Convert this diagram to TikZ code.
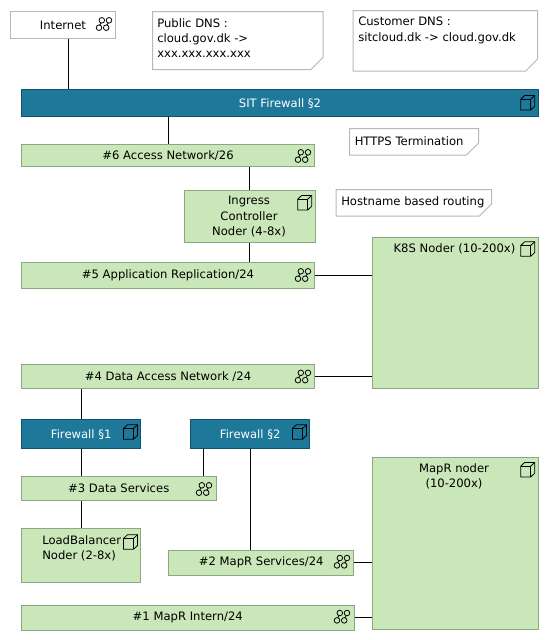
\documentclass[tikz,border=0pt]{standalone}
\usepackage{fontspec}
\setmainfont{DejaVu Sans}
\definecolor{zonegreen}{HTML}{CAE7B9}
\definecolor{zoneline}{HTML}{8CA882}
\definecolor{wallblue}{HTML}{1D7899}
\definecolor{wallline}{HTML}{135269}
\definecolor{noteline}{HTML}{B8B8B8}
\tikzset{
  basebox/.style={rectangle,anchor=north west,inner sep=0pt,line width=.75pt,font=\fontsize{8.7}{11.5}\selectfont},
  zone/.style={basebox,draw=zoneline,fill=zonegreen},
  wall/.style={basebox,draw=wallline,fill=wallblue,text=white},
  plain/.style={basebox,draw=noteline,fill=white},
  link/.style={black,line width=.8pt},
  tag/.style={font=\fontsize{8.7}{11.5}\selectfont,inner sep=0pt,align=left}
}
% network icon, #1 = centre
\newcommand{\neticon}[1]{
  \begin{scope}[shift={(#1)},line width=.6pt]
    \foreach \px/\py in {-2.2/-3.7,5/-3.7,-5/3.7,2.2/3.7}
      \draw (\px,\py) circle (2.8);
    \draw (-2.9,-1) -- (-4.3,1);
    \draw (4.3,-1) -- (2.9,1);
  \end{scope}
}
% node icon, #1 = centre
\newcommand{\cubeicon}[1]{
  \begin{scope}[shift={(#1)},line width=.6pt]
    \draw (-7,-3.5) -- (-3,-7.3) -- (7,-7.3) -- (7,3.5) -- (3,7.3) -- (-7,7.3) -- cycle;
    \draw (-7,-3.5) -- (3,-3.5) -- (3,7.3);
    \draw (3,-3.5) -- (7,-7.3);
  \end{scope}
}
% note with cut corner, x1 y1 x2 y2
\newcommand{\notebox}[4]{
  \draw[line width=.75pt,draw=noteline,fill=white] (#1,#2) -- (#3,#2) -- (#3,#4-12) -- (#3-12,#4) -- (#1,#4) -- cycle;
}
\begin{document}
\begin{tikzpicture}[x=.75pt,y=-.75pt]
    \useasboundingbox (0,0) rectangle (548,640);

    \notebox{152.5}{11.5}{323}{69.5}
    \node[tag,anchor=north west] (publicdns) at (157,18) {Public DNS :\\cloud.gov.dk ->\\xxx.xxx.xxx.xxx};
    \notebox{353}{10.5}{537.7}{71}
    \node[tag,anchor=north west] (customerdns) at (358,17) {Customer DNS :\\sitcloud.dk -> cloud.gov.dk};
    \notebox{349.5}{128.5}{478.5}{155}
    \node[tag,anchor=west] (https) at (354.5,141) {HTTPS Termination};
    \notebox{336}{189.5}{491.5}{216}
    \node[tag,anchor=west] (hostname) at (341,202) {Hostname based routing};

    \node[plain,minimum width=78.75pt,minimum height=20.25pt] (internet) at (10,11) {Internet};

    \node[wall,minimum width=387.75pt,minimum height=20.6pt] (sit) at (21,89) {SIT Firewall §2};
    \node[wall,minimum width=89.6pt,minimum height=22.1pt] (fwone) at (21,419) {Firewall §1};
    \node[wall,minimum width=89.6pt,minimum height=22.1pt] (fwtwo) at (190,419) {Firewall §2};

    \node[zone,minimum width=219.75pt,minimum height=16.9pt] (accessnet) at (21,143.5) {\#6 Access Network/26};
    \node[zone,minimum width=98pt,minimum height=39.4pt] (ingress) at (184,189.5) {};
    \node[zone,minimum width=219.75pt,minimum height=19.5pt] (appnet) at (21,262) {\#5 Application Replication/24};
    \node[zone,minimum width=219.75pt,minimum height=18pt] (datanet) at (21,364) {\#4 Data Access Network /24};
    \node[zone,minimum width=145.9pt,minimum height=18pt] (dataserv) at (21,476) {\#3 Data Services};
    \node[zone,minimum width=89.6pt,minimum height=40.5pt] (lbnode) at (21,528) {};
    \node[zone,minimum width=139.1pt,minimum height=18.75pt] (maprserv) at (168,549.5) {\#2 MapR Services/24};
    \node[zone,minimum width=249.4pt,minimum height=18.75pt] (maprint) at (21,604.5) {\#1 MapR Intern/24};
    \node[zone,minimum width=124.9pt,minimum height=113.6pt] (k8s) at (371.5,236.5) {};
    \node[zone,minimum width=124.9pt,minimum height=129pt] (maprnode) at (371.5,457) {};

    \node[tag,align=center,anchor=north] (ingresstxt) at (249,196) {Ingress\\Controller\\Noder (4-8x)};
    \node[tag,anchor=north west] (lbtxt) at (42,535) {LoadBalancer\\Noder (2-8x)};
    \node[tag,anchor=north] (k8stxt) at (454.5,243) {K8S Noder (10-200x)};
    \node[tag,align=center,anchor=north] (maprtxt) at (454,463.5) {MapR noder\\(10-200x)};

    \draw[link] (internet.south -| 68.5,0) -- (sit.north -| 68.5,0);
    \draw[link] (sit.south -| 168.5,0) -- (accessnet.north -| 168.5,0);
    \draw[link] (accessnet.south -| 249.5,0) -- (ingress.north -| 249.5,0);
    \draw[link] (ingress.south -| 249.5,0) -- (appnet.north -| 249.5,0);
    \draw[link] (appnet.east) -- (appnet.east -| k8s.west);
    \draw[link] (datanet.east) -- (datanet.east -| k8s.west);
    \draw[link] (datanet.south -| 81.5,0) -- (fwone.north -| 81.5,0);
    \draw[link] (fwone.south -| 81.5,0) -- (dataserv.north -| 81.5,0);
    \draw[link] (fwtwo.south -| 203.5,0) -- (dataserv.north -| 203.5,0);
    \draw[link] (dataserv.south -| 81.5,0) -- (lbnode.north -| 81.5,0);
    \draw[link] (fwtwo.south -| 250.5,0) -- (maprserv.north -| 250.5,0);
    \draw[link] (maprserv.east) -- (maprserv.east -| maprnode.west);
    \draw[link] (maprint.east) -- (maprint.east -| maprnode.west);

    \neticon{104,24}
    \neticon{303,156}
    \neticon{303,275}
    \neticon{303,376.5}
    \neticon{204,489}
    \neticon{342,561.7}
    \neticon{342,616.7}

    \cubeicon{527.7,102.7}
    \cubeicon{130.5,432}
    \cubeicon{299.5,432}
    \cubeicon{130.5,542}
    \cubeicon{304.7,202.7}
    \cubeicon{527.7,249}
    \cubeicon{527.7,469.7}
\end{tikzpicture}
\end{document}
